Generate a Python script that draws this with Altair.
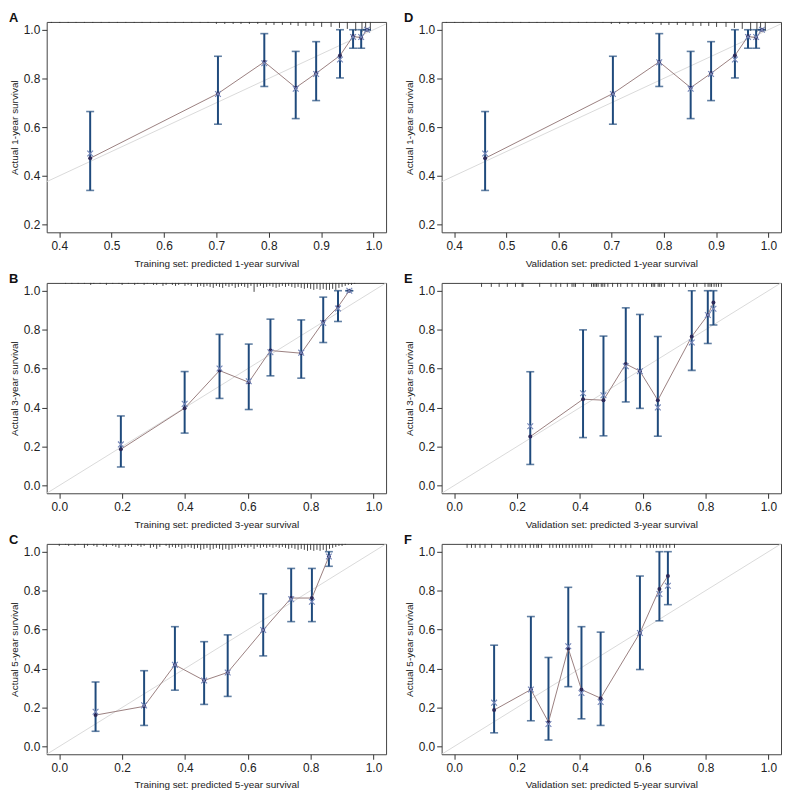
import altair as alt
import pandas as pd

FONT = "Liberation Sans"

# ---------------- Panel A (training, 1-year) ----------------
a_pred = [0.459, 0.703, 0.7915, 0.8515, 0.8905, 0.936, 0.961, 0.9765, 0.9876]
a_obs = [0.472, 0.738, 0.868, 0.762, 0.821, 0.894, 0.973, 0.967, 1.0]
a_corr = [0.492, 0.736, 0.862, 0.758, 0.818, 0.878, 0.970, 0.970, 1.0]
a_lo = [0.340, 0.612, 0.767, 0.635, 0.709, 0.802, 0.924, 0.924, 1.0]
a_hi = [0.664, 0.891, 0.984, 0.911, 0.951, 1.0, 1.0, 1.0, 1.0]
a_rug_x = [0.385, 0.401, 0.417, 0.432, 0.448, 0.464, 0.480, 0.495, 0.511, 0.527,
           0.543, 0.558, 0.574, 0.590, 0.606, 0.621, 0.637, 0.653, 0.669, 0.684,
           0.700, 0.716, 0.732, 0.747, 0.763, 0.779, 0.795, 0.810, 0.826, 0.842,
           0.856, 0.871, 0.886, 0.901, 0.919, 0.935, 0.950, 0.966, 0.978, 0.985, 0.994]
a_rug_h = [1, 1, 1, 1, 1, 1, 1, 1, 1, 1,
           1, 1, 1, 1, 1, 1, 1, 1, 1, 1,
           2, 2, 2, 2, 2, 2, 3, 3, 3, 3,
           4, 4, 4, 5, 5, 6, 7, 9, 10, 10, 9]

# ---------------- Panel D (validation, 1-year) ----------------
d_pred = [0.459, 0.703, 0.7915, 0.8515, 0.8905, 0.936, 0.961, 0.9765, 0.9876]
d_obs = [0.472, 0.738, 0.868, 0.762, 0.821, 0.894, 0.973, 0.967, 1.0]
d_corr = [0.492, 0.736, 0.866, 0.758, 0.818, 0.878, 0.970, 0.970, 1.0]
d_lo = [0.340, 0.612, 0.767, 0.635, 0.709, 0.802, 0.924, 0.924, 1.0]
d_hi = [0.664, 0.891, 0.984, 0.911, 0.951, 1.0, 1.0, 1.0, 1.0]
d_rug_x = list(a_rug_x)
d_rug_h = list(a_rug_h)

# ---------------- Panel B (training, 3-year) ----------------
b_pred = [0.196, 0.399, 0.510, 0.603, 0.672, 0.770, 0.840, 0.887, 0.923]
b_obs = [0.186, 0.397, 0.590, 0.530, 0.693, 0.679, 0.839, 0.917, 1.0]
b_corr = [0.211, 0.419, 0.601, 0.535, 0.684, 0.682, 0.834, 0.909, 1.0]
b_lo = [0.095, 0.269, 0.447, 0.390, 0.563, 0.551, 0.734, 0.842, 1.0]
b_hi = [0.357, 0.585, 0.776, 0.726, 0.854, 0.850, 0.967, 1.0, 1.0]
b_rug_x = [0.02, 0.04, 0.06, 0.08, 0.10, 0.11, 0.13, 0.15, 0.17, 0.19,
           0.20, 0.22, 0.24, 0.25, 0.27, 0.28, 0.30, 0.31, 0.33, 0.34,
           0.36, 0.37, 0.38, 0.40, 0.41, 0.42, 0.44, 0.45, 0.46, 0.47,
           0.48, 0.49, 0.50, 0.51, 0.52, 0.53, 0.54, 0.55, 0.56, 0.57,
           0.58, 0.59, 0.60, 0.61, 0.62, 0.63, 0.64, 0.65, 0.66, 0.67,
           0.68, 0.69, 0.70, 0.71, 0.72, 0.73, 0.74, 0.75, 0.76, 0.77,
           0.78, 0.79, 0.80, 0.81, 0.82, 0.83, 0.84, 0.85, 0.86, 0.87,
           0.88, 0.89, 0.90, 0.91, 0.92, 0.93, 0.94]
b_rug_h = [1, 1, 1, 1, 2, 1, 1, 2, 1, 1,
           2, 1, 2, 1, 2, 1, 2, 2, 3, 2,
           2, 3, 2, 3, 2, 3, 4, 3, 4, 3,
           4, 5, 3, 4, 5, 3, 4, 3, 5, 4,
           3, 4, 5, 3, 9, 4, 3, 5, 4, 3,
           4, 5, 4, 3, 4, 3, 4, 5, 4, 5,
           6, 5, 6, 7, 6, 7, 6, 7, 7, 6,
           7, 5, 4, 3, 2, 2, 1]

# ---------------- Panel E (validation, 3-year) ----------------
e_pred = [0.242, 0.410, 0.475, 0.546, 0.591, 0.648, 0.756, 0.807, 0.825]
e_obs = [0.251, 0.443, 0.438, 0.624, 0.587, 0.438, 0.765, 0.875, 0.940]
e_corr = [0.304, 0.474, 0.463, 0.612, 0.587, 0.401, 0.734, 0.875, 0.907]
e_lo = [0.108, 0.246, 0.255, 0.429, 0.396, 0.253, 0.591, 0.729, 0.824]
e_hi = [0.584, 0.799, 0.767, 0.912, 0.878, 0.765, 1.0, 1.0, 1.0]
e_rug_x = [0.087, 0.118, 0.143, 0.169, 0.195, 0.216, 0.219, 0.272, 0.308, 0.324,
           0.339, 0.360, 0.375, 0.381, 0.386, 0.411, 0.437, 0.443, 0.448, 0.453,
           0.458, 0.468, 0.473, 0.479, 0.489, 0.504, 0.520, 0.530, 0.551, 0.566,
           0.587, 0.602, 0.612, 0.628, 0.633, 0.638, 0.649, 0.654, 0.659, 0.669,
           0.695, 0.716, 0.736, 0.762, 0.772, 0.798, 0.808, 0.814, 0.819, 0.827,
           0.834, 0.841, 0.850]
e_rug_h = [1 for _ in e_rug_x]

# ---------------- Panel C (training, 5-year) ----------------
c_pred = [0.1155, 0.270, 0.368, 0.461, 0.536, 0.649, 0.738, 0.804, 0.858]
c_obs = [0.161, 0.206, 0.419, 0.339, 0.380, 0.598, 0.762, 0.762, 0.975]
c_corr = [0.178, 0.211, 0.419, 0.339, 0.380, 0.598, 0.756, 0.743, 0.975]
c_lo = [0.078, 0.108, 0.289, 0.216, 0.257, 0.465, 0.641, 0.641, 0.925]
c_hi = [0.331, 0.389, 0.615, 0.538, 0.573, 0.784, 0.914, 0.914, 1.0]
c_rug_x = [0.00, 0.02, 0.03, 0.05, 0.06, 0.08, 0.09, 0.11, 0.12, 0.14,
           0.15, 0.17, 0.18, 0.19, 0.21, 0.22, 0.23, 0.25, 0.26, 0.27,
           0.29, 0.30, 0.31, 0.32, 0.34, 0.35, 0.36, 0.37, 0.38, 0.39,
           0.40, 0.41, 0.42, 0.43, 0.44, 0.45, 0.46, 0.47, 0.48, 0.49,
           0.50, 0.51, 0.52, 0.53, 0.54, 0.55, 0.56, 0.57, 0.58, 0.59,
           0.60, 0.61, 0.62, 0.63, 0.64, 0.65, 0.66, 0.67, 0.68, 0.69,
           0.70, 0.71, 0.72, 0.73, 0.74, 0.75, 0.76, 0.77, 0.78, 0.79,
           0.80, 0.81, 0.82, 0.83, 0.84, 0.85, 0.86, 0.87, 0.88, 0.89,
           0.90, 0.91]
c_rug_h = [2, 1, 2, 2, 1, 4, 2, 2, 3, 2,
           3, 2, 3, 4, 3, 2, 3, 2, 3, 2,
           4, 3, 5, 3, 2, 4, 3, 4, 3, 5,
           4, 3, 4, 5, 4, 6, 5, 4, 6, 5,
           4, 5, 6, 5, 6, 5, 4, 3, 4, 3,
           4, 3, 5, 3, 4, 3, 4, 3, 4, 3,
           4, 3, 4, 5, 4, 5, 6, 5, 6, 7,
           6, 7, 6, 7, 6, 7, 5, 4, 3, 2,
           2, 1]

# ---------------- Panel F (validation, 5-year) ----------------
f_pred = [0.127, 0.244, 0.300, 0.363, 0.405, 0.466, 0.591, 0.653, 0.680]
f_obs = [0.187, 0.292, 0.125, 0.503, 0.292, 0.248, 0.583, 0.808, 0.875]
f_corr = [0.225, 0.292, 0.115, 0.515, 0.275, 0.228, 0.583, 0.783, 0.825]
f_lo = [0.070, 0.132, 0.033, 0.307, 0.142, 0.108, 0.395, 0.645, 0.728]
f_hi = [0.520, 0.667, 0.457, 0.817, 0.615, 0.587, 0.875, 1.0, 1.0]
f_rug_x = [0.041, 0.055, 0.067, 0.082, 0.098, 0.119, 0.149, 0.170, 0.180, 0.193,
           0.206, 0.216, 0.227, 0.242, 0.253, 0.263, 0.268, 0.278, 0.304, 0.314,
           0.325, 0.335, 0.345, 0.356, 0.366, 0.376, 0.387, 0.397, 0.407, 0.418,
           0.428, 0.438, 0.495, 0.510, 0.531, 0.546, 0.562, 0.593, 0.613, 0.624,
           0.634, 0.644, 0.655, 0.665, 0.675, 0.686, 0.701]
f_rug_h = [1 for _ in f_rug_x]

ideal_vals = [-0.2, 1.2]

# ---------------- styling ----------------
W, H = 342, 212
BAR_COLOR = "#1f4a7c"
LINE_COLOR = "#9a8080"
DOT_COLOR = "#2c2a5a"
X_COLOR = "#7586b8"
IDEAL_COLOR = "#dadada"
X_SHAPE = "M-1,-1L1,1M-1,1L1,-1"


def panel(letter, pred, obs, corr, lo, hi, rug_x, rug_h, rug_dom, rug_px,
          xdom, ydom, xticks, yticks, xtitle, ytitle):
    df = pd.DataFrame({"pred": pred, "obs": obs, "corr": corr, "lo": lo, "hi": hi})
    xscale = alt.Scale(domain=xdom, nice=False, zero=False)
    yscale = alt.Scale(domain=ydom, nice=False, zero=False)
    xaxis = alt.Axis(values=xticks, format=".1f", title=xtitle, labelFlush=False)
    yaxis = alt.Axis(values=yticks, format=".1f", title=ytitle, orient="left",
                     labelFlush=False)

    def xe(f):
        return alt.X(f + ":Q", scale=xscale, axis=xaxis)

    def ye(f):
        return alt.Y(f + ":Q", scale=yscale, axis=yaxis)

    base = alt.Chart(df)
    ideal = alt.Chart(pd.DataFrame({"pred": ideal_vals, "obs": ideal_vals})).mark_line(
        color=IDEAL_COLOR, strokeWidth=1, clip=True).encode(x=xe("pred"), y=ye("obs"))
    bars = base.mark_rule(color=BAR_COLOR, strokeWidth=2).encode(
        x=xe("pred"), y=ye("lo"), y2="hi:Q")
    cap_lo = base.mark_tick(color=BAR_COLOR, orient="horizontal", size=8,
                            thickness=1.6).encode(x=xe("pred"), y=ye("lo"))
    cap_hi = base.mark_tick(color=BAR_COLOR, orient="horizontal", size=8,
                            thickness=1.6).encode(x=xe("pred"), y=ye("hi"))
    line = base.mark_line(color=LINE_COLOR, strokeWidth=1).encode(
        x=xe("pred"), y=ye("obs"))
    dots = base.mark_point(filled=True, shape="circle", size=16, color=DOT_COLOR,
                           opacity=1).encode(x=xe("pred"), y=ye("obs"))
    xs = base.mark_point(filled=False, shape=X_SHAPE, size=34, color=X_COLOR,
                         strokeWidth=1.1, opacity=1).encode(x=xe("pred"), y=ye("corr"))
    inner = alt.layer(ideal, bars, cap_lo, cap_hi, line, dots, xs)

    rdf = pd.DataFrame({"rx": rug_x, "rh": rug_h, "z": [0 for _ in rug_x]})
    rug = alt.Chart(rdf).mark_rule(color="#333333", strokeWidth=0.9).encode(
        x=xe("rx"),
        y=alt.Y("z:Q", scale=alt.Scale(domain=rug_dom, range=rug_px), axis=None),
        y2="rh:Q")

    lab = alt.Chart(pd.DataFrame({"t": [letter]})).mark_text(
        align="left", baseline="top", fontSize=13, fontWeight="bold", font=FONT,
        color="#111111").encode(text="t:N", x=alt.value(-38), y=alt.value(-10))

    return alt.layer(rug, inner, lab).resolve_scale(y="independent").properties(
        width=W, height=H)


tick_1y = [0.4, 0.5, 0.6, 0.7, 0.8, 0.9, 1.0]
ytick_1y = [0.2, 0.4, 0.6, 0.8, 1.0]
tick_01 = [0.0, 0.2, 0.4, 0.6, 0.8, 1.0]
dom_1y_x = [0.376, 1.024]
dom_1y_y = [0.168, 1.032]
dom_01 = [-0.04, 1.04]

pA = panel("A", a_pred, a_obs, a_corr, a_lo, a_hi, a_rug_x, a_rug_h, [0, 10], [0, 10],
           dom_1y_x, dom_1y_y, tick_1y, ytick_1y,
           "Training set: predicted 1-year survival", "Actual 1-year survival")
pD = panel("D", d_pred, d_obs, d_corr, d_lo, d_hi, d_rug_x, d_rug_h, [0, 10], [0, 10],
           dom_1y_x, dom_1y_y, tick_1y, ytick_1y,
           "Validation set: predicted 1-year survival", "Actual 1-year survival")
pB = panel("B", b_pred, b_obs, b_corr, b_lo, b_hi, b_rug_x, b_rug_h, [0, 10], [0, 10],
           dom_01, dom_01, tick_01, tick_01,
           "Training set: predicted 3-year survival", "Actual 3-year survival")
pE = panel("E", e_pred, e_obs, e_corr, e_lo, e_hi, e_rug_x, e_rug_h, [0, 1], [0, 4],
           dom_01, dom_01, tick_01, tick_01,
           "Validation set: predicted 3-year survival", "Actual 3-year survival")
pC = panel("C", c_pred, c_obs, c_corr, c_lo, c_hi, c_rug_x, c_rug_h, [0, 10], [0, 10],
           dom_01, dom_01, tick_01, tick_01,
           "Training set: predicted 5-year survival", "Actual 5-year survival")
pF = panel("F", f_pred, f_obs, f_corr, f_lo, f_hi, f_rug_x, f_rug_h, [0, 1], [0, 4],
           dom_01, dom_01, tick_01, tick_01,
           "Validation set: predicted 5-year survival", "Actual 5-year survival")

HS, VS = 16, 3
chart = alt.vconcat(
    alt.hconcat(pA, pD, spacing=HS),
    alt.hconcat(pB, pE, spacing=HS),
    alt.hconcat(pC, pF, spacing=HS),
    spacing=VS,
).properties(
    padding={"left": 0, "top": 0, "right": 0, "bottom": 0}
).configure(
    font=FONT
).configure_view(
    stroke="#444444", strokeWidth=1
).configure_axis(
    domain=False, grid=False, tickColor="#333333", tickSize=5, tickWidth=1,
    labelFont=FONT, labelFontSize=12, labelColor="#222222",
    titleFont=FONT, titleFontSize=10, titleFontWeight="normal", titleColor="#222222",
).configure_axisX(
    labelPadding=3, titlePadding=7
).configure_axisY(
    labelPadding=2, titlePadding=4
)

chart.save("out.html", embed_options={"renderer": "svg", "actions": False})
